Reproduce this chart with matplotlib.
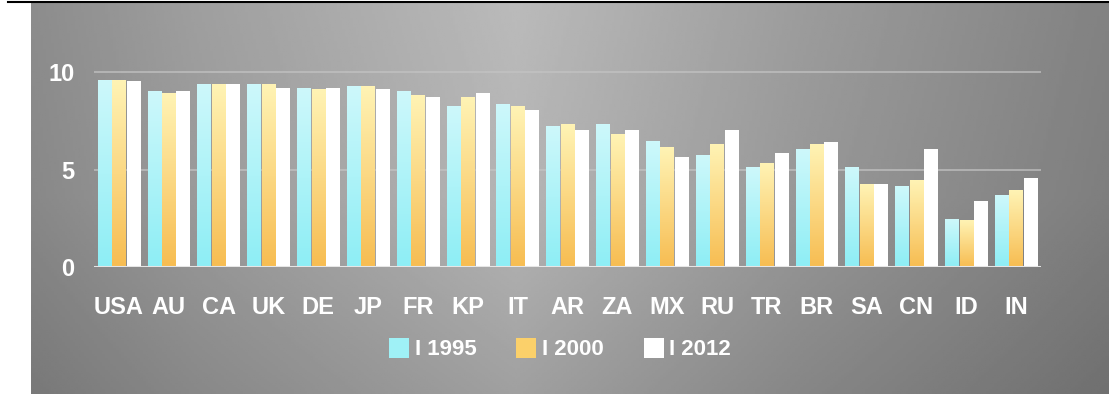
import matplotlib
matplotlib.use("Agg")
import numpy as np
import matplotlib.pyplot as plt
from matplotlib.lines import Line2D
from matplotlib.patches import Patch

plt.rcParams["font.family"] = ["Liberation Sans Narrow", "Liberation Sans", "DejaVu Sans"]

# 数据
countries = ["USA", "AU", "CA", "UK", "DE", "JP", "FR", "KP", "IT", "AR",
             "ZA", "MX", "RU", "TR", "BR", "SA", "CN", "ID", "IN"]
years = ["1995", "2000", "2012"]
v1995 = [9.6, 9.0, 9.4, 9.4, 9.2, 9.3, 9.0, 8.25, 8.35, 7.2,
         7.3, 6.45, 5.75, 5.1, 6.05, 5.1, 4.15, 2.45, 3.7]
v2000 = [9.6, 8.9, 9.4, 9.4, 9.1, 9.3, 8.8, 8.7, 8.25, 7.3,
         6.8, 6.15, 6.3, 5.3, 6.3, 4.25, 4.45, 2.4, 3.95]
v2012 = [9.55, 9.0, 9.4, 9.2, 9.2, 9.1, 8.7, 8.9, 8.05, 7.0,
         7.0, 5.65, 7.0, 5.85, 6.4, 4.25, 6.05, 3.35, 4.55]
series = [v1995, v2000, v2012]

# 每个系列的上下渐变色
grad = [("#cdf8fb", "#8eeef5"), ("#fff3b4", "#f7bd52"), ("#ffffff", "#ffffff")]
legend_col = ["#9ff1f6", "#fbd06a", "#ffffff"]

W, H = 1109, 405
fig = plt.figure(figsize=(W / 100, H / 100), dpi=100)
fig.patch.set_facecolor("white")

# 背景灰色渐变面板
bg = fig.add_axes([31 / W, (H - 394) / H, (W - 31) / W, (394 - 3) / H])
bg.set_axis_off()
xs = np.linspace(0, 1, 400)
ys = np.linspace(0, 1, 200)
hx = np.interp(xs, [0, 0.15, 0.45, 0.72, 1.0], [0.55, 0.62, 0.73, 0.61, 0.51])
vy = np.interp(ys, [0, 0.5, 1.0], [1.0, 0.97, 0.86])
img = np.outer(vy, hx)
bg.imshow(img, cmap="gray", vmin=0, vmax=1, aspect="auto", extent=(0, 1, 1, 0))
bg.set_xlim(0, 1)
bg.set_ylim(1, 0)

# 顶部黑线
fig.add_artist(Line2D([8 / W, 1.0], [(H - 2) / H, (H - 2) / H], color="black", lw=1.5))

ax = fig.add_axes([94 / W, (H - 267) / H, 947 / W, 214 / H])
ax.patch.set_alpha(0)
ylim_top = 11

x = np.arange(len(countries))
bw = 0.27
offs = [-0.29, 0, 0.29]
for s, vals in enumerate(series):
    bars = ax.bar(x + offs[s], vals, width=bw, color="none", edgecolor="none", zorder=2)
    top, bot = grad[s]
    cm = matplotlib.colors.LinearSegmentedColormap.from_list("g%d" % s, [bot, top])
    for b in bars:
        x0 = b.get_x()
        h = b.get_height()
        g = np.linspace(0, 1, 64).reshape(-1, 1)
        ax.imshow(g, cmap=cm, origin="lower", aspect="auto",
                  extent=(x0, x0 + b.get_width(), 0, h), zorder=2)
ax.set_xlim(-0.5, len(countries) - 0.5)
ax.set_ylim(0, ylim_top)

for yv in [5, 10]:
    ax.axhline(yv, color="#c4c4c4", lw=1.2, alpha=0.8, zorder=1)
ax.axhline(0, color="#e6e6e6", lw=2.2, zorder=3)

for sp in ax.spines.values():
    sp.set_visible(False)
ax.set_yticks([0, 5, 10])
ax.set_yticklabels(["0", "5", "10"])
ax.set_xticks(x)
ax.set_xticklabels(countries)
ax.tick_params(length=0, labelcolor="white", labelsize=17)
ax.tick_params(axis="x", pad=21)
ax.tick_params(axis="y", pad=14)
for t in ax.get_xticklabels() + ax.get_yticklabels():
    t.set_fontweight("bold")

handles = [Patch(facecolor=c, edgecolor="none") for c in legend_col]
leg = fig.legend(handles, ["I " + y for y in years], loc="center",
                 bbox_to_anchor=(560 / W, (H - 349) / H), ncol=3, frameon=False,
                 fontsize=16, handlelength=0.9, handleheight=1.0,
                 handletextpad=0.25, columnspacing=1.8)
for t in leg.get_texts():
    t.set_color("white")
    t.set_fontweight("bold")

fig.savefig("out.png", dpi=100)
